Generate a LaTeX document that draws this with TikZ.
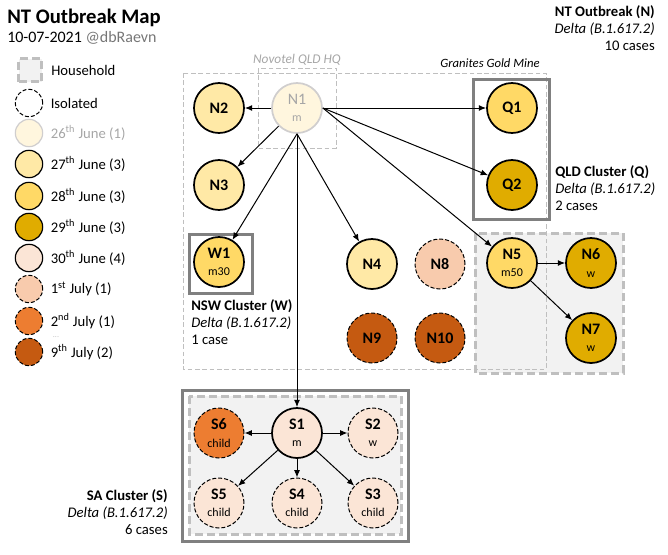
\documentclass[tikz,border=0pt]{standalone}
\usepackage{fontspec}
\setmainfont{Carlito}
\usepackage{tikz}
\usetikzlibrary{arrows.meta,positioning}
\definecolor{creamyellow}{RGB}{255,246,222}
\definecolor{paleyellow}{RGB}{255,233,166}
\definecolor{goldyellow}{RGB}{255,217,102}
\definecolor{darkgold}{RGB}{224,172,0}
\definecolor{palepeach}{RGB}{251,229,214}
\definecolor{peach}{RGB}{248,203,173}
\definecolor{brightorange}{RGB}{237,125,49}
\definecolor{rustbrown}{RGB}{197,90,17}
\definecolor{softgrey}{RGB}{166,166,166}
\definecolor{midgrey}{RGB}{118,118,118}
\definecolor{dashgrey}{RGB}{191,191,191}
\definecolor{framegrey}{RGB}{128,128,128}
\definecolor{boxgrey}{RGB}{242,242,242}
\definecolor{ringgrey}{RGB}{208,206,206}

\tikzset{
    case/.style={circle, draw=black, line width=1.3pt, minimum size=37.5pt, inner sep=0pt, align=center, font=\bfseries\fontsize{12}{13}\selectfont},
    isolated/.style={case, line width=0.75pt, dash pattern=on 3pt off 1.5pt},
    legendcase/.style={circle, draw=black, line width=0.9pt, minimum size=20.5pt, inner sep=0pt},
    household/.style={fill=boxgrey, draw=dashgrey, line width=2.25pt, dash pattern=on 6pt off 3pt},
    setting/.style={draw=dashgrey, line width=0.75pt, dash pattern=on 3.5pt off 2pt},
    clusterframe/.style={draw=framegrey, line width=2.25pt},
    caption/.style={inner sep=0pt, font=\fontsize{11}{12.75}\selectfont},
    place/.style={inner sep=0pt, font=\itshape\fontsize{10}{12}\selectfont},
    spread/.style={-{Latex[length=5.5pt,width=4.5pt]}, line width=0.75pt},
}
\newcommand{\casenote}[1]{{\mdseries\fontsize{9}{10}\selectfont #1}}

\begin{document}
\begin{tikzpicture}[x=0.75pt, y=-0.75pt]
    \useasboundingbox (0,0) rectangle (668,554);

    % Title
    \node[anchor=west, inner sep=0pt, font=\bfseries\fontsize{15.5}{18}\selectfont] (title) at (7,18) {NT Outbreak Map};
    \node[anchor=west, inner sep=0pt, font=\fontsize{12}{14}\selectfont] (subtitle) at (7,38) {10-07-2021 \textcolor{midgrey}{@dbRaevn}};

    % Legend
    \node[household, minimum size=17.25pt, inner sep=0pt] (legHouse) at (30,70) {};
    \node[caption, right=6pt of legHouse] (legHouseText) {Household};
    \node[legendcase, line width=0.75pt, dash pattern=on 3pt off 1.5pt] (legIso) at (29,103) {};
    \node[caption, right=5.5pt of legIso] (legIsoText) {Isolated};
    \node[legendcase, fill=creamyellow, draw=ringgrey] (leg26) at (29,133) {};
    \node[caption, right=5.5pt of leg26, text=softgrey] (leg26Text) {26\textsuperscript{th} June (1)};
    \node[legendcase, fill=paleyellow] (leg27) at (29,164) {};
    \node[caption, right=5.5pt of leg27] (leg27Text) {27\textsuperscript{th} June (3)};
    \node[legendcase, fill=goldyellow] (leg28) at (29,196) {};
    \node[caption, right=5.5pt of leg28] (leg28Text) {28\textsuperscript{th} June (3)};
    \node[legendcase, fill=darkgold] (leg29) at (29,227) {};
    \node[caption, right=5.5pt of leg29] (leg29Text) {29\textsuperscript{th} June (3)};
    \node[legendcase, fill=palepeach] (leg30) at (29,258) {};
    \node[caption, right=5.5pt of leg30] (leg30Text) {30\textsuperscript{th} June (4)};
    \node[legendcase, fill=peach, line width=0.75pt, dash pattern=on 3pt off 1.5pt] (leg01) at (29,289) {};
    \node[caption, right=5.5pt of leg01] (leg01Text) {1\textsuperscript{st} July (1)};
    \node[legendcase, fill=brightorange, line width=0.75pt, dash pattern=on 3pt off 1.5pt] (leg02) at (29,321) {};
    \node[caption, right=5.5pt of leg02] (leg02Text) {2\textsuperscript{nd} July (1)};
    \node[inner sep=0pt, text=dashgrey, font=\fontsize{6}{6}\selectfont] (legDots) at (56,337.5) {...};
    \node[legendcase, fill=rustbrown, line width=0.75pt, dash pattern=on 3pt off 1.5pt] (leg09) at (29,352) {};
    \node[caption, right=5.5pt of leg09] (leg09Text) {9\textsuperscript{th} July (2)};

    % Households
    \draw[household] (475,233) rectangle (623,373);
    \draw[household] (189,396) rectangle (401,534);

    % Settings
    \draw[setting] (183,73) rectangle (546,369);
    \draw[setting] (258,68) rectangle (336,148);
    \node[place, text=softgrey] (novotel) at (297,60) {Novotel QLD HQ};
    \node[place, font=\itshape\fontsize{9.5}{12}\selectfont] (granites) at (490,63) {Granites Gold Mine};

    % Cluster frames
    \draw[clusterframe] (189,234) rectangle (252,293);
    \draw[clusterframe] (473,79) rectangle (549,219);
    \draw[clusterframe] (182,390) rectangle (408,541);

    % Cluster captions
    \node[caption, anchor=north east, align=right] (ntText) at (655,5) {\textbf{NT Outbreak (N)}\\\textit{Delta (B.1.617.2)}\\10 cases};
    \node[caption, anchor=north west, align=left] (qldText) at (555,165) {\textbf{QLD Cluster (Q)}\\\textit{Delta (B.1.617.2)}\\2 cases};
    \node[caption, anchor=north west, align=left] (nswText) at (191,299) {\textbf{NSW Cluster (W)}\\\textit{Delta (B.1.617.2)}\\1 case};
    \node[caption, anchor=north east, align=right] (saText) at (168,489) {\textbf{SA Cluster (S)}\\\textit{Delta (B.1.617.2)}\\6 cases};

    % NT cases
    \node[case, fill=creamyellow, draw=ringgrey, text=softgrey, font=\fontsize{12}{13}\selectfont] (n1) at (297,108) {N1\\\casenote{m}};
    \node[case, fill=paleyellow] (n2) at (219,108) {N2};
    \node[case, fill=paleyellow] (n3) at (219,185) {N3};
    \node[case, fill=paleyellow] (n4) at (372,264) {N4};
    \node[case, fill=goldyellow] (n5) at (512,263) {N5\\\casenote{m50}};
    \node[case, fill=darkgold] (n6) at (591,263) {N6\\\casenote{w}};
    \node[case, fill=darkgold] (n7) at (591,338) {N7\\\casenote{w}};
    \node[isolated, fill=peach] (n8) at (440,264) {N8};
    \node[isolated, fill=rustbrown] (n9) at (372,338) {N9};
    \node[isolated, fill=rustbrown] (n10) at (440,338) {N10};

    % QLD and NSW cases
    \node[case, fill=goldyellow] (q1) at (512,108) {Q1};
    \node[case, fill=darkgold] (q2) at (512,185) {Q2};
    \node[case, fill=goldyellow] (w1) at (219,262) {W1\\\casenote{m30}};

    % SA cases
    \node[case, fill=palepeach] (s1) at (297,433) {S1\\\casenote{m}};
    \node[isolated, fill=palepeach] (s2) at (373,433) {S2\\\casenote{w}};
    \node[isolated, fill=palepeach] (s3) at (373,503) {S3\\\casenote{child}};
    \node[isolated, fill=palepeach] (s4) at (297,503) {S4\\\casenote{child}};
    \node[isolated, fill=palepeach] (s5) at (219,503) {S5\\\casenote{child}};
    \node[isolated, fill=brightorange] (s6) at (219,433) {S6\\\casenote{child}};

    % Spread from N1
    \draw[spread] (n1) -- (n2);
    \draw[spread] (n1) -- (n3);
    \draw[spread] (n1.south) -- (w1);
    \draw[spread] (n1.south) -- (s1);
    \draw[spread] (n1.south) -- (n4);
    \draw[spread] (n1.east) -- (q1);
    \draw[spread] (n1.east) -- (q2);
    \draw[spread] (n1.east) -- (n5);

    % Spread within households
    \draw[spread] (n5) -- (n6);
    \draw[spread] (n5) -- (n7);
    \draw[spread] (s1) -- (s6);
    \draw[spread] (s1) -- (s2);
    \draw[spread] (s1) -- (s3);
    \draw[spread] (s1) -- (s4);
    \draw[spread] (s1) -- (s5);
\end{tikzpicture}
\end{document}
